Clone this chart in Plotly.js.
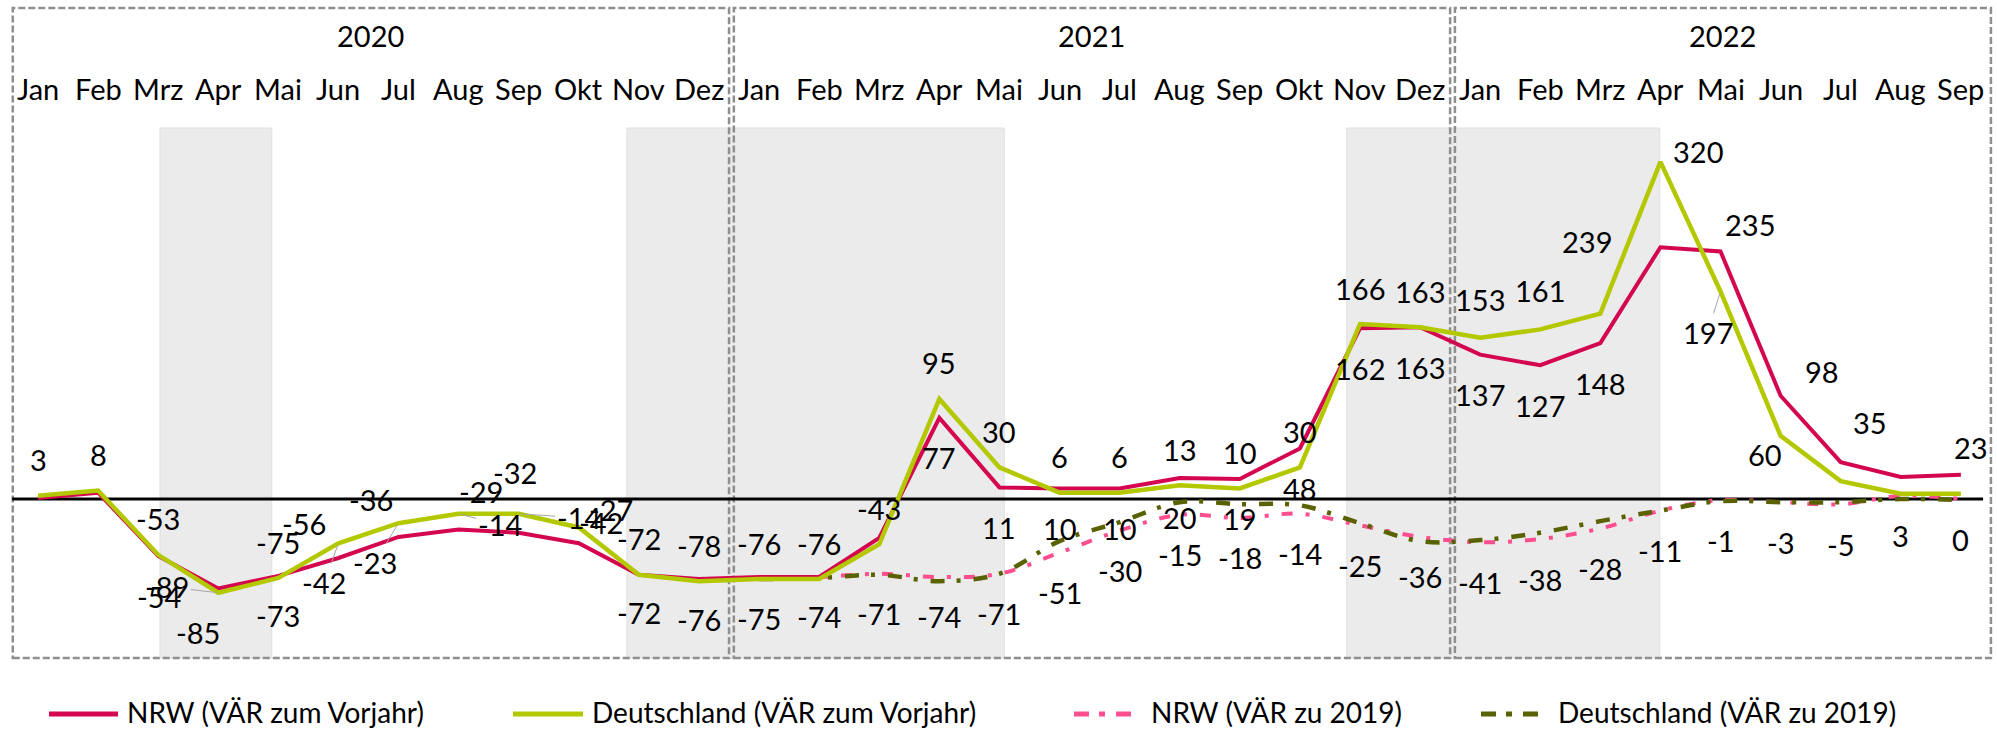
<!DOCTYPE html>
<html>
<head>
<meta charset="utf-8">
<script src="https://cdn.plot.ly/plotly-3.0.1.min.js"></script>
<style>
  html, body { margin: 0; padding: 0; background: #ffffff; }
  #chart { width: 1997px; height: 731px; }
</style>
</head>
<body>
<div id="chart"></div>
<script>
// ---------------- DATA ----------------
const months = ["Jan", "Feb", "Mrz", "Apr", "Mai", "Jun", "Jul", "Aug", "Sep", "Okt", "Nov", "Dez"];
const years = ["2020", "2021", "2022"];
const monthsPerYear = [12, 12, 9];

const seriesNames = [
  "NRW (VÄR zum Vorjahr)",
  "Deutschland (VÄR zum Vorjahr)",
  "NRW (VÄR zu 2019)",
  "Deutschland (VÄR zu 2019)"
];

const nrwVorjahr = [1, 6, -54, -85, -73, -56, -36, -29, -32, -42, -72, -76,
  -74, -74, -37, 77, 11, 10, 10, 20, 19, 48, 162, 163,
  137, 127, 148, 239, 235, 98, 35, 21, 23];

const deVorjahr = [3, 8, -53, -89, -75, -42, -23, -14, -14, -27, -72, -78,
  -76, -76, -43, 95, 30, 6, 6, 13, 10, 30, 166, 163,
  153, 161, 176, 320, 197, 60, 17, 5, 5];

const nrwZu2019 = [null, null, null, null, null, null, null, null, null, null, null, null,
  -75, -74, -71, -74, -71, -51, -30, -15, -18, -14, -25, -36,
  -41, -38, -28, -11, -1, -3, -5, 3, 0];

const deZu2019 = [null, null, null, null, null, null, null, null, null, null, null, null,
  -76, -75, -72, -78, -71, -40, -22, -3, -5, -6, -23, -40,
  -39, -32, -21, -11, -2, -3, -3, 0, -1];

// ---------------- STYLE ----------------
const W = 1997, H = 731;
const FONT = "Lato, 'Open Sans', sans-serif";
const FS = 29;
const colors = ["#d3064f", "#b4c800", "#fd4e90", "#5a6200"];
const widths = [4, 4.5, 4, 4.5];
const dashes = ["solid", "solid", "11px,13px,4px,13px", "14px,12px,4px,13px"];
const shapes_ = ["linear", "linear", "spline", "spline"];

// label placement (pixel offsets of label centre from its point; styling only)
const labelStyle = {
  0: { def: [0, 40], hide: [0, 1, 12, 13, 14, 31],
       over: { 2: [1, 41], 3: [-20, 44], 5: [-34, -35], 6: [-28, -37], 7: [22, -38], 8: [-4, -60],
               9: [22, -21], 10: [0, 38], 27: [-73, -6], 28: [29, -27], 29: [41, -24], 30: [29, -40], 32: [10, -27] } },
  1: { def: [0, -36], hide: [26, 30, 31, 32],
       over: { 3: [-51, -6, 1], 5: [-14, 39, 1], 6: [-24, 39, 1], 7: [41, 11, 1], 8: [60, 4, 1], 9: [32, -18],
               24: [0, -38], 25: [0, -39], 27: [38, -10], 28: [-13, 41, 1], 29: [-16, 19] } },
  2: { def: [0, 40], hide: [], over: {} }
};

// ---------------- BUILD ----------------
const N = nrwVorjahr.length;
const xIdx = Array.from({ length: N }, (_, i) => i);
const allSeries = [nrwVorjahr, deVorjahr, nrwZu2019, deZu2019];

const traces = allSeries.map((vals, s) => ({
  type: "scatter",
  mode: "lines",
  x: xIdx,
  y: vals,
  name: seriesNames[s],
  line: { color: colors[s], width: widths[s], dash: dashes[s], shape: shapes_[s], smoothing: 1 },
  connectgaps: false,
  hoverinfo: "skip",
  showlegend: false
}));
// draw order: pink under dark, red under green
const ordered = [traces[2], traces[3], traces[0], traces[1]];

const px2x = p => p / W;
const px2y = p => 1 - p / H;

const annotations = [];
const shapes = [];

// gray shaded periods (in month-index units)
const shaded = [[2.03, 3.89], [9.80, 16.08], [21.78, 26.99]];
shaded.forEach(([a, b]) => shapes.push({
  type: "rect", layer: "below", xref: "x", yref: "paper",
  x0: a, x1: b, y0: px2y(658), y1: px2y(128),
  fillcolor: "#ebebeb", line: { color: "#e0e0e0", width: 1 }
}));

// year boxes + year / month labels
let start = 0;
years.forEach((yr, k) => {
  const first = start, last = start + monthsPerYear[k] - 1;
  shapes.push({
    type: "rect", layer: "below", xref: "x", yref: "paper",
    x0: first - 0.42, x1: last + 0.5, y0: px2y(658), y1: px2y(8),
    fillcolor: "rgba(0,0,0,0)", line: { color: "#8f8f8f", width: 2.5, dash: "7px,3px" }
  });
  annotations.push({
    xref: "x", yref: "paper", x: (first - 0.42 + last + 0.5) / 2, y: px2y(36),
    text: yr, showarrow: false, xanchor: "center", yanchor: "middle",
    font: { family: FONT, size: FS, color: "#000" }
  });
  for (let i = first; i <= last; i++) {
    annotations.push({
      xref: "x", yref: "paper", x: i, y: px2y(88),
      text: months[i - first], showarrow: false, xanchor: "center", yanchor: "middle",
      font: { family: FONT, size: FS, color: "#000" }
    });
  }
  start += monthsPerYear[k];
});

// zero line
shapes.push({
  type: "line", layer: "below", xref: "x", yref: "y",
  x0: -0.43, x1: 32.37, y0: 0, y1: 0, line: { color: "#000000", width: 3 }
});

// data labels
[0, 1, 2].forEach(s => {
  const st = labelStyle[s];
  allSeries[s].forEach((v, i) => {
    if (v === null || st.hide.includes(i)) return;
    const o = st.over[i] || st.def;
    const base = {
      xref: "x", yref: "y", x: i, y: v, text: String(v),
      xanchor: "center", yanchor: "middle",
      font: { family: FONT, size: FS, color: "#000" }
    };
    if (o[2]) {
      Object.assign(base, {
        showarrow: true, ax: o[0], ay: o[1], axref: "pixel", ayref: "pixel",
        arrowhead: 0, arrowwidth: 1, arrowcolor: "#a6a6a6", standoff: 2, startstandoff: 0
      });
    } else {
      Object.assign(base, { showarrow: false, xshift: o[0], yshift: -o[1] });
    }
    annotations.push(base);
  });
});

// custom legend
const legendPos = [[49, 118, 126], [513, 583, 591], [1074, 1134, 1150], [1481, 1541, 1557]];
const legendDash = ["solid", "solid", "15px,10px,6px,11px", "15px,10px,6px,11px"];
seriesNames.forEach((nm, s) => {
  const [a, b, t] = legendPos[s];
  shapes.push({
    type: "line", xref: "paper", yref: "paper",
    x0: px2x(a), x1: px2x(b), y0: px2y(714), y1: px2y(714),
    line: { color: colors[s], width: 5, dash: legendDash[s] }
  });
  annotations.push({
    xref: "paper", yref: "paper", x: px2x(t), y: px2y(712),
    text: nm, showarrow: false, xanchor: "left", yanchor: "middle", borderpad: 0,
    font: { family: FONT, size: 28, color: "#000" }
  });
});

const pxPerMonth = 60.09, pxPerUnit = 1.0535;
const layout = {
  width: W, height: H,
  margin: { l: 0, r: 0, t: 0, b: 0, pad: 0 },
  paper_bgcolor: "#ffffff", plot_bgcolor: "#ffffff",
  xaxis: { range: [-38 / pxPerMonth, (W - 38) / pxPerMonth], visible: false, fixedrange: true },
  yaxis: { range: [-(H - 499) / pxPerUnit, 499 / pxPerUnit], visible: false, fixedrange: true },
  showlegend: false,
  shapes: shapes,
  annotations: annotations,
  font: { family: FONT }
};

Plotly.newPlot("chart", ordered, layout, { displayModeBar: false, staticPlot: true });
</script>
</body>
</html>
